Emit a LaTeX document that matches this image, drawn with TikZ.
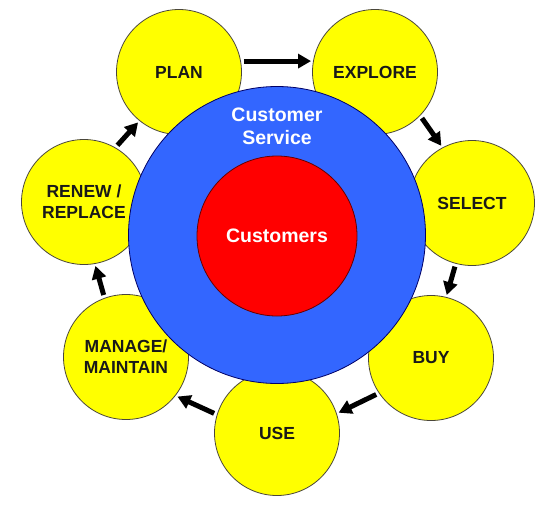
\documentclass[tikz,border=0pt]{standalone}
\usepackage{fontspec}
\setmainfont{Liberation Sans}
\usepackage{xcolor}
\usetikzlibrary{arrows.meta}
\definecolor{stepyellow}{RGB}{255,255,0}
\definecolor{servblue}{RGB}{51,102,255}
\definecolor{custred}{RGB}{255,0,0}
\tikzset{
  stage/.style={circle, draw=black!70!yellow!60!black, line width=0.8pt, fill=stepyellow,
    minimum size=125pt, inner sep=0pt, align=center, text=black!90,
    font=\fontsize{17.5}{21}\selectfont\bfseries},
  flow/.style={line width=5pt, -{Triangle[length=13pt,width=14pt]}, shorten <=3pt, shorten >=2pt}
}
\begin{document}
\begin{tikzpicture}[x=1pt,y=-1pt]
\useasboundingbox (0,0) rectangle (546,504);
\node[stage] (plan) at (179,72) {PLAN};
\node[stage] (explore) at (375,72) {EXPLORE};
\node[stage] (select) at (472,203) {SELECT};
\node[stage] (buy) at (431,358) {BUY};
\node[stage] (use) at (277,433) {USE};
\node[stage] (manage) at (126,357) {MANAGE/\\MAINTAIN};
\node[stage] (renew) at (84,202) {RENEW /\\REPLACE};
\node[circle, draw=blue!40!black, line width=0.8pt, fill=servblue, minimum size=297pt] (service) at (277,235) {};
\node[circle, draw=red!40!black, line width=0.8pt, fill=custred, minimum size=160pt, text=white,
  font=\fontsize{19.5}{23}\selectfont\bfseries] (customers) at (277,236) {Customers};
\node[text=white, align=center, font=\fontsize{19.5}{23}\selectfont\bfseries] (servicelabel) at (277,126.5) {Customer\\Service};
\draw [flow] (plan.10) -- (explore.170);
\draw [flow] (explore.-44) -- (select.118);
\draw [flow] (select.-105) -- (buy.76);
\draw [flow] (buy.-146) -- (use.18);
\draw [flow] (use.163) -- (manage.-38);
\draw [flow] (manage.110) -- (renew.-80);
\draw [flow] (renew.60) -- (plan.-129);
\end{tikzpicture}
\end{document}
